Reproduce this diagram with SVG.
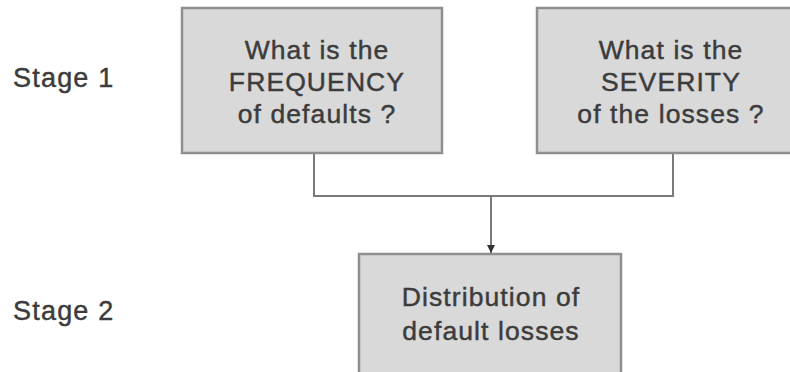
<svg xmlns="http://www.w3.org/2000/svg" width="790" height="372" viewBox="0 0 790 372">
<defs>
<style>
.box{fill:#d9d9d9;stroke:#8f8f8f;stroke-width:2.5}
.t{font-family:"Liberation Sans",Arial,sans-serif;font-size:26.5px;fill:#3c3c3c;stroke:#3c3c3c;stroke-width:0.45;letter-spacing:1.1px;text-anchor:middle}
.s{font-family:"Liberation Sans",Arial,sans-serif;font-size:27px;fill:#3c3c3c;stroke:#3c3c3c;stroke-width:0.45;letter-spacing:1.2px}
.c{fill:none;stroke:#7a7a7a;stroke-width:2}
</style>
<marker id="ah" viewBox="0 0 10 10" refX="10" refY="5" markerWidth="4.5" markerHeight="4" orient="auto" markerUnits="strokeWidth">
<path d="M0,0 L10,5 L0,10 Z" fill="#333333"/>
</marker>
</defs>
<rect width="790" height="372" fill="#ffffff"/>
<g id="stage1-label"><text class="s" x="13" y="87">Stage 1</text></g>
<g id="stage2-label"><text class="s" x="13" y="320">Stage 2</text></g>
<g id="frequency">
<rect class="box" x="182" y="8" width="260" height="145"/>
<text class="t" x="317" y="59">What is the</text>
<text class="t" x="317" y="91">FREQUENCY</text>
<text class="t" x="317" y="123">of defaults ?</text>
</g>
<g id="severity">
<rect class="box" x="537" y="8" width="260" height="145"/>
<text class="t" x="671" y="59">What is the</text>
<text class="t" x="671" y="91">SEVERITY</text>
<text class="t" x="671" y="123">of the losses ?</text>
</g>
<g id="distribution">
<rect class="box" x="359" y="254" width="262" height="130"/>
<text class="t" x="491" y="306">Distribution of</text>
<text class="t" x="491" y="340">default losses</text>
</g>
<g id="connectors">
<polyline class="c" points="314,154 314,196 673,196 673,154"/>
<line class="c" x1="491" y1="196" x2="491" y2="253" marker-end="url(#ah)"/>
</g>
</svg>
